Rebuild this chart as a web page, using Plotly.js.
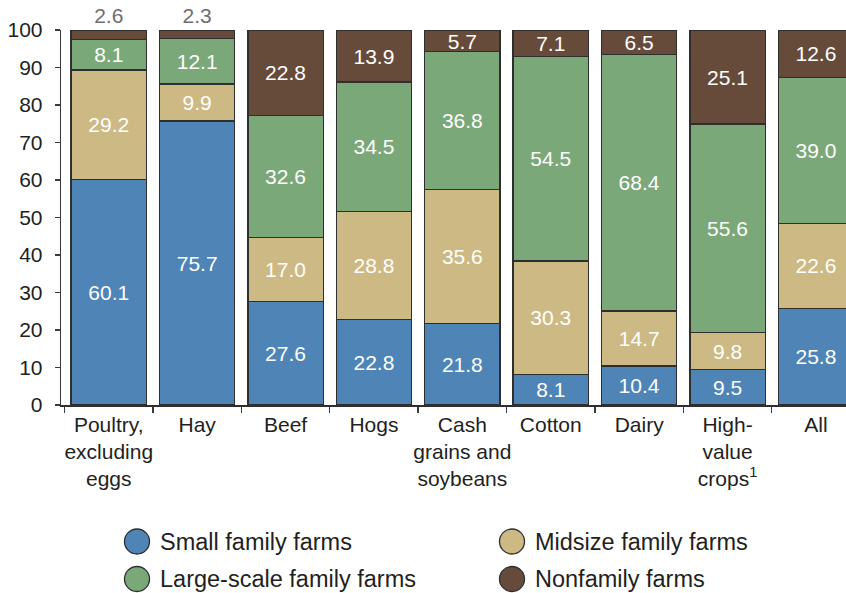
<!DOCTYPE html>
<html>
<head>
<meta charset="utf-8">
<script src="https://cdn.plot.ly/plotly-3.0.1.min.js"></script>
<style>
  html, body { margin: 0; padding: 0; background: #fff; }
  #chart { width: 846px; height: 593px; }
</style>
</head>
<body>
<div id="chart"></div>
<script>
// ---- Data ----
const categories = [
  "Poultry,<br>excluding<br>eggs", "Hay", "Beef", "Hogs",
  "Cash<br>grains and<br>soybeans", "Cotton", "Dairy",
  "High-<br>value<br>crops<sup>1</sup>", "All"
];
const seriesNames = ["Small family farms", "Midsize family farms", "Large-scale family farms", "Nonfamily farms"];
const smallFamily  = [60.1, 75.7, 27.6, 22.8, 21.8,  8.1, 10.4,  9.5, 25.8];
const midsizeFamily = [29.2,  9.9, 17.0, 28.8, 35.6, 30.3, 14.7,  9.8, 22.6];
const largeFamily  = [ 8.1, 12.1, 32.6, 34.5, 36.8, 54.5, 68.4, 55.6, 39.0];
const nonfamily    = [ 2.6,  2.3, 22.8, 13.9,  5.7,  7.1,  6.5, 25.1, 12.6];
const yTicks = [0, 10, 20, 30, 40, 50, 60, 70, 80, 90, 100];

// ---- Styles ----
const colors = ["#4e84b6", "#cdb983", "#7ba878", "#664a3a"];
const edge = "#2e2e2e";
const textDark = "#231f20";
const W = 846, H = 593;
const M = {l: 61, r: 0, t: 30, b: 188};
const plotW = W - M.l - M.r, plotH = H - M.t - M.b;

// Segments too small for an inside label get their label above the bar
const outsideIdx = [0, 1];
function makeTrace(vals, i) {
  const isTop = i === 3;
  const pos = vals.map((v, k) => (isTop && outsideIdx.includes(k)) ? "outside" : "inside");
  const tcol = vals.map((v, k) => (isTop && outsideIdx.includes(k)) ? "#6d6e70" : "#ffffff");
  return {
    type: "bar",
    name: seriesNames[i],
    x: categories,
    y: vals,
    width: 0.852,
    marker: {color: colors[i], line: {color: edge, width: 1.3}},
    texttemplate: "%{y:.1f}",
    textposition: pos,
    insidetextanchor: "middle",
    textangle: 0,
    constraintext: "none",
    textfont: {family: "Liberation Sans, Arial, sans-serif", size: 21, color: tcol},
    cliponaxis: false,
    showlegend: false,
    hoverinfo: "skip"
  };
}
const data = [smallFamily, midsizeFamily, largeFamily, nonfamily].map(makeTrace);

// ---- Legend (drawn as circles + labels below the plot) ----
const px2x = px => (px - M.l) / plotW;
const py2y = py => (M.t + plotH - py) / plotH;
const legendPos = [[137, 541.5], [512, 541.5], [137, 579], [512, 579]];
const shapes = [], annotations = [];
legendPos.forEach((p, i) => {
  shapes.push({
    type: "circle", xref: "paper", yref: "paper",
    xsizemode: "pixel", ysizemode: "pixel",
    xanchor: px2x(p[0]), yanchor: py2y(p[1]),
    x0: -12.5, x1: 12.5, y0: -12.5, y1: 12.5,
    fillcolor: colors[i], line: {color: edge, width: 1.3}
  });
  annotations.push({
    xref: "paper", yref: "paper",
    x: px2x(p[0] + 21), y: py2y(p[1]),
    xanchor: "left", yanchor: "middle", showarrow: false,
    text: seriesNames[i],
    font: {family: "Liberation Sans, Arial, sans-serif", size: 23.5, color: textDark}
  });
});

const layout = {
  width: W, height: H,
  margin: M,
  barmode: "stack",
  paper_bgcolor: "#ffffff",
  plot_bgcolor: "#ffffff",
  font: {family: "Liberation Sans, Arial, sans-serif", size: 21, color: textDark},
  showlegend: false,
  xaxis: {
    type: "category",
    range: [-0.54, 8.34],
    tickson: "boundaries",
    tickangle: 0,
    ticks: "outside", ticklen: 6, tickcolor: "#3a3a3a", tickwidth: 1.3,
    showline: true, linecolor: "#2e2e2e", linewidth: 1.5,
    showgrid: false, zeroline: false,
    tickfont: {size: 21, color: textDark},
    fixedrange: true
  },
  yaxis: {
    range: [0, 100],
    tickvals: yTicks,
    ticktext: yTicks.map(String),
    ticks: "outside", ticklen: 5, tickcolor: "#3a3a3a", tickwidth: 1.3,
    showline: true, linecolor: "#3a3a3a", linewidth: 1.3,
    showgrid: false, zeroline: false,
    ticklabelstandoff: 8,
    tickfont: {size: 21, color: textDark},
    fixedrange: true
  },
  shapes: shapes,
  annotations: annotations
};

Plotly.newPlot("chart", data, layout, {displayModeBar: false, staticPlot: true});
</script>
</body>
</html>
